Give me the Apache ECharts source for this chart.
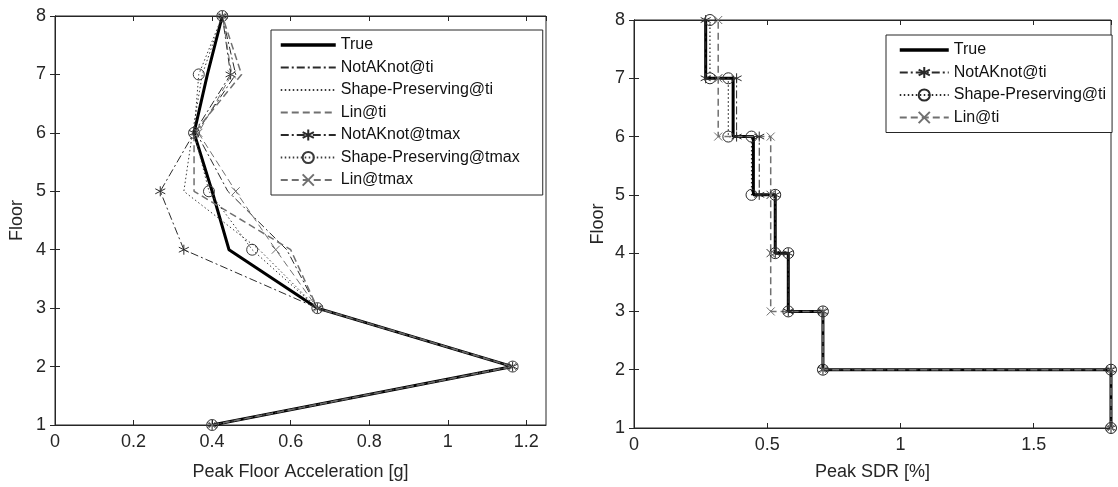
<!DOCTYPE html>
<html><head><meta charset="utf-8">
<script src="https://cdn.jsdelivr.net/npm/echarts@6/dist/echarts.min.js"></script>
<style>html,body{margin:0;padding:0;background:#fff}#c{width:1118px;height:487px}</style>
</head><body><div id="c"></div>
<script>
// ---------- data ----------
const floors = [1, 2, 3, 4, 5, 6, 7, 8];
// Left panel: peak floor acceleration [g], floor 1..8
const pfaTrue         = [0.40, 1.165, 0.668, 0.443, 0.400, 0.354, 0.388, 0.426];
const pfaNotAKnotTi   = [0.40, 1.165, 0.668, 0.590, 0.440, 0.360, 0.460, 0.426];
const pfaShapeTi      = [0.40, 1.165, 0.668, 0.520, 0.328, 0.350, 0.375, 0.426];
const pfaLinTi        = [0.40, 1.165, 0.668, 0.600, 0.354, 0.354, 0.475, 0.426];
const pfaNotAKnotTmax = [0.40, 1.165, 0.668, 0.328, 0.268, 0.354, 0.447, 0.426];
const pfaShapeTmax    = [0.40, 1.165, 0.668, 0.502, 0.392, 0.354, 0.366, 0.426];
const pfaLinTmax      = [0.40, 1.165, 0.668, 0.562, 0.460, 0.365, 0.450, 0.426];
// Right panel: peak story drift ratio [%], story 1..7 (between floor i and i+1)
const sdrTrue       = [1.79, 0.709, 0.579, 0.530, 0.448, 0.372, 0.269];
const sdrNotAKnotTi = [1.79, 0.709, 0.579, 0.530, 0.470, 0.385, 0.269];
const sdrShapeTi    = [1.79, 0.709, 0.579, 0.530, 0.441, 0.354, 0.285];
const sdrLinTi      = [1.79, 0.709, 0.513, 0.513, 0.513, 0.316, 0.316];
const leftXTicks = [0, 0.2, 0.4, 0.6, 0.8, 1, 1.2];
const rightXTicks = [0, 0.5, 1, 1.5];
const leftNames = ['True', 'NotAKnot@ti', 'Shape-Preserving@ti', 'Lin@ti',
                   'NotAKnot@tmax', 'Shape-Preserving@tmax', 'Lin@tmax'];
const rightNames = ['True', 'NotAKnot@ti', 'Shape-Preserving@ti', 'Lin@ti'];

// ---------- helpers ----------
const FONT = 'Liberation Sans, Arial, sans-serif';
const TXT = '#262626';
const SYM_STAR = 'path://M5,0L5,10M0.7,2.5L9.3,7.5M0.7,7.5L9.3,2.5';
const SYM_X = 'path://M0,0L10,10M10,0L0,10';
const DASHDOT = [8, 3, 2, 3];
const DOT = [1.5, 2.5];
const DASH = [7, 4];

function profile(vals) { return floors.map((f, i) => [vals[i], f]); }
function steps(s) {
  const pts = [];
  for (let i = 0; i < s.length; i++) {
    pts.push([s[i], floors[i]]);
    pts.push([s[i], floors[i + 1]]);
  }
  return pts;
}
function mk(name, data, gi, style) {
  const hasSym = !!style.symbol;
  return {
    name: name, type: 'line', xAxisIndex: gi * 2, yAxisIndex: gi * 2,
    data: data, animation: false, silent: true,
    lineStyle: { color: style.color, width: style.width, type: style.dash || 'solid' },
    symbol: style.symbol || 'none', symbolSize: style.size || 10,
    itemStyle: { color: 'rgba(0,0,0,0)',
                 borderColor: hasSym ? style.color : 'rgba(0,0,0,0)',
                 borderWidth: hasSym ? 1 : 0 },
    emphasis: { disabled: true }
  };
}
function axesFor(gi, min, max, interval, name, nameGap, xTicks) {
  const common = {
    gridIndex: gi, type: 'value', min: min, max: max, interval: interval,
    axisLine: { show: true, lineStyle: { color: TXT, width: 1 } },
    axisTick: { show: true, inside: true, length: 5, lineStyle: { color: TXT } },
    splitLine: { show: false }
  };
  const xb = Object.assign({}, common, {
    position: 'bottom', name: name, nameLocation: 'middle', nameGap: nameGap,
    nameTextStyle: { fontSize: 18, color: TXT, fontFamily: FONT },
    axisLabel: { fontSize: 18, color: TXT, fontFamily: FONT, margin: 8,
      showMaxLabel: false,
      formatter: v => (xTicks.some(t => Math.abs(t - v) < 1e-9) ? String(v) : '') }
  });
  const xt = Object.assign({}, common, { position: 'top', axisLabel: { show: false } });
  const yc = Object.assign({}, common, { min: 1, max: 8, interval: 1 });
  const yl = Object.assign({}, yc, {
    position: 'left', name: 'Floor', nameLocation: 'middle', nameGap: gi === 0 ? 29 : 27,
    nameTextStyle: { fontSize: 18, color: TXT, fontFamily: FONT },
    axisLabel: { fontSize: 18, color: TXT, fontFamily: FONT, margin: 9 }
  });
  const yr = Object.assign({}, yc, { position: 'right', axisLabel: { show: false } });
  return { x: [xb, xt], y: [yl, yr] };
}

const A0 = axesFor(0, 0, 1.25, 0.2, 'Peak Floor Acceleration [g]', 38, leftXTicks);
const A1 = axesFor(1, 0, 1.79, 0.5, 'Peak SDR [%]', 35, rightXTicks);

const leftStyles = [
  { color: '#000', width: 3 },
  { color: '#2a2a2a', width: 1, dash: DASHDOT },
  { color: '#3a3a3a', width: 1, dash: DOT },
  { color: '#707070', width: 1.5, dash: DASH },
  { color: '#2a2a2a', width: 1, dash: DASHDOT, symbol: SYM_STAR, size: 10 },
  { color: '#3a3a3a', width: 1, dash: DOT, symbol: 'circle', size: 11 },
  { color: '#707070', width: 1, dash: DASH, symbol: SYM_X, size: 8 }
];
const leftData = [pfaTrue, pfaNotAKnotTi, pfaShapeTi, pfaLinTi, pfaNotAKnotTmax, pfaShapeTmax, pfaLinTmax];
const rightStyles = [
  { color: '#000', width: 3 },
  { color: '#2a2a2a', width: 1, dash: DASHDOT, symbol: SYM_STAR, size: 10 },
  { color: '#2a2a2a', width: 1.2, dash: DOT, symbol: 'circle', size: 11 },
  { color: '#707070', width: 1.5, dash: DASH, symbol: SYM_X, size: 8 }
];
const rightData = [sdrTrue, sdrNotAKnotTi, sdrShapeTi, sdrLinTi];

const series = [];
leftNames.forEach((n, i) => series.push(mk(n, profile(leftData[i]), 0, leftStyles[i])));
rightNames.forEach((n, i) => series.push(mk('R:' + n, steps(rightData[i]), 1, rightStyles[i])));

function legendItems(names, prefix) {
  return names.map(n => n === 'True'
    ? { name: prefix + n, lineStyle: { width: 3.5, color: '#000' } }
    : { name: prefix + n });
}

const legendBase = {
  orient: 'vertical', itemHeight: 14, itemGap: 6.5,
  textStyle: { fontSize: 16, color: '#111', fontFamily: FONT },
  backgroundColor: '#fff', borderColor: TXT, borderWidth: 1, borderRadius: 0,
  selectedMode: false, inactiveColor: '#111'
};

const option = {
  animation: false,
  backgroundColor: '#fff',
  textStyle: { fontFamily: FONT },
  grid: [
    { left: 55, top: 16, width: 491, height: 409, show: true, borderColor: TXT, borderWidth: 1, backgroundColor: '#fff' },
    { left: 634, top: 20, width: 477, height: 408, show: true, borderColor: TXT, borderWidth: 1, backgroundColor: '#fff' }
  ],
  xAxis: A0.x.concat(A1.x),
  yAxis: A0.y.concat(A1.y),
  legend: [
    Object.assign({}, legendBase, { left: 271, top: 30, itemWidth: 55, padding: [7, 23, 7, 8],
      data: legendItems(leftNames, '') }),
    Object.assign({}, legendBase, { left: 886, top: 35, itemWidth: 49, padding: [7, 6, 7, 12],
      data: legendItems(rightNames, 'R:'), formatter: n => n.replace(/^R:/, '') })
  ],
  series: series
};
const chart = echarts.init(document.getElementById('c'), null, { renderer: 'canvas' });
chart.setOption(option);
</script></body></html>
